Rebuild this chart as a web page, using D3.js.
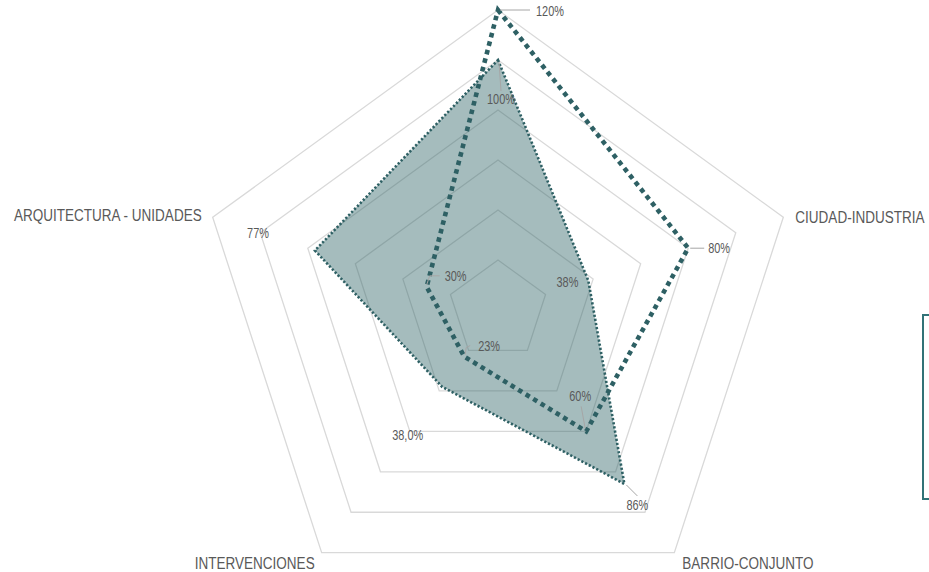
<!DOCTYPE html>
<html>
<head>
<meta charset="utf-8">
<script src="https://cdn.jsdelivr.net/npm/d3@7/dist/d3.min.js"></script>
<style>
  html, body { margin: 0; padding: 0; background: #ffffff; }
  svg { display: block; }
  .axis-label { font-family: "Liberation Sans", Arial, sans-serif; font-size: 16.5px; fill: #595959; }
  .value-label { font-family: "Liberation Sans", Arial, sans-serif; font-size: 14px; fill: #595959; }
</style>
</head>
<body>
<svg id="chart" width="929" height="572"></svg>
<script>
// Categories, clockwise from the top spoke
const categories = ["", "CIUDAD-INDUSTRIA", "BARRIO-CONJUNTO", "INTERVENCIONES", "ARQUITECTURA - UNIDADES"];

// Filled series (percent)
const filledValues = [100, 38, 86, 38, 77];
const filledLabels = ["100%", "38%", "86%", "38,0%", "77%"];

// Dashed series (percent)
const dashedValues = [120, 80, 60, 23, 30];
const dashedLabels = ["120%", "80%", "60%", "23%", "30%"];

// Radial grid steps (percent)
const gridTicks = [20, 40, 60, 80, 100, 120];

const width = 929, height = 572;
const cx = 498, cy = 310, R = 300;
// horizontal condensing of the label typeface
const AXIS_SQUEEZE = 0.82, VALUE_SQUEEZE = 0.78;

const svg = d3.select("#chart");

const r = d3.scaleLinear().domain([0, 120]).range([0, R]);
const angle = d3.scalePoint().domain(d3.range(categories.length)).range([0, 2 * Math.PI * (categories.length - 1) / categories.length]);

const pt = (i, v) => {
  const a = angle(i);
  return [cx + r(v) * Math.sin(a), cy - r(v) * Math.cos(a)];
};

const line = d3.line().curve(d3.curveLinearClosed);

function condensedText(cls, x, y, anchor, squeeze, str) {
  svg.append("text")
    .attr("class", cls)
    .attr("transform", `translate(${x},${y}) scale(${squeeze},1)`)
    .attr("dy", "0.36em")
    .attr("text-anchor", anchor)
    .text(str);
}

// grid rings
const grid = svg.append("g");
gridTicks.forEach(t => {
  grid.append("path")
    .attr("d", line(categories.map((_, i) => pt(i, t))))
    .attr("fill", "none")
    .attr("stroke", "#d9d9d9")
    .attr("stroke-width", 1.3);
});

// filled series
svg.append("path")
  .attr("d", line(filledValues.map((v, i) => pt(i, v))))
  .attr("fill", "#2f6467")
  .attr("fill-opacity", 0.43)
  .attr("stroke", "#2e6064")
  .attr("stroke-width", 2.6)
  .attr("stroke-dasharray", "2.2 2");

// dashed series
svg.append("path")
  .attr("d", line(dashedValues.map((v, i) => pt(i, v))))
  .attr("fill", "none")
  .attr("stroke", "#2e6064")
  .attr("stroke-width", 4.6)
  .attr("stroke-dasharray", "4.6 4.2");

// axis labels
const axisPlacement = [
  { dx: 0, dy: -14, anchor: "middle" },
  { dx: 12, dy: 0, anchor: "start" },
  { dx: 8, dy: 10, anchor: "start" },
  { dx: -7, dy: 10, anchor: "end" },
  { dx: -11, dy: -2, anchor: "end" }
];
categories.forEach((c, i) => {
  const [x, y] = pt(i, 120);
  const p = axisPlacement[i];
  condensedText("axis-label", x + p.dx, y + p.dy, p.anchor, AXIS_SQUEEZE, c);
});

// data labels: offset of the text from its point, plus an optional leader polyline
function drawLabels(values, labels, placement) {
  values.forEach((v, i) => {
    const [x, y] = pt(i, v);
    const p = placement[i];
    if (p.leader) {
      svg.append("polyline")
        .attr("points", p.leader.map(([lx, ly]) => [x + lx, y + ly].join(",")).join(" "))
        .attr("fill", "none")
        .attr("stroke", "#a6a6a6")
        .attr("stroke-width", 1);
    }
    condensedText("value-label", x + p.dx, y + p.dy, p.anchor, VALUE_SQUEEZE, labels[i]);
  });
}

drawLabels(filledValues, filledLabels, [
  { dx: 3, dy: 39, anchor: "middle", leader: [[1, 2], [3, 31]] },
  { dx: -10, dy: 1, anchor: "end" },
  { dx: 13, dy: 21, anchor: "middle", leader: [[2, 1], [13, 12]] },
  { dx: -19, dy: 48, anchor: "end" },
  { dx: -46, dy: -18, anchor: "end" }
]);

drawLabels(dashedValues, dashedLabels, [
  { dx: 38, dy: 1, anchor: "start", leader: [[2, 0], [32, 0]] },
  { dx: 20, dy: 0, anchor: "start", leader: [[2, 0], [16, 0]] },
  { dx: -6, dy: -35, anchor: "middle", leader: [[-1, -3], [-5, -25]] },
  { dx: 14, dy: -11, anchor: "start", leader: [[1, -2], [2, -9], [6, -11]] },
  { dx: 18, dy: -11, anchor: "start", leader: [[0, -2], [3, -11], [13, -11]] }
]);

// legend frame at the right edge
svg.append("rect")
  .attr("x", 923)
  .attr("y", 315)
  .attr("width", 40)
  .attr("height", 184)
  .attr("fill", "none")
  .attr("stroke", "#317377")
  .attr("stroke-width", 2);
</script>
</body>
</html>
